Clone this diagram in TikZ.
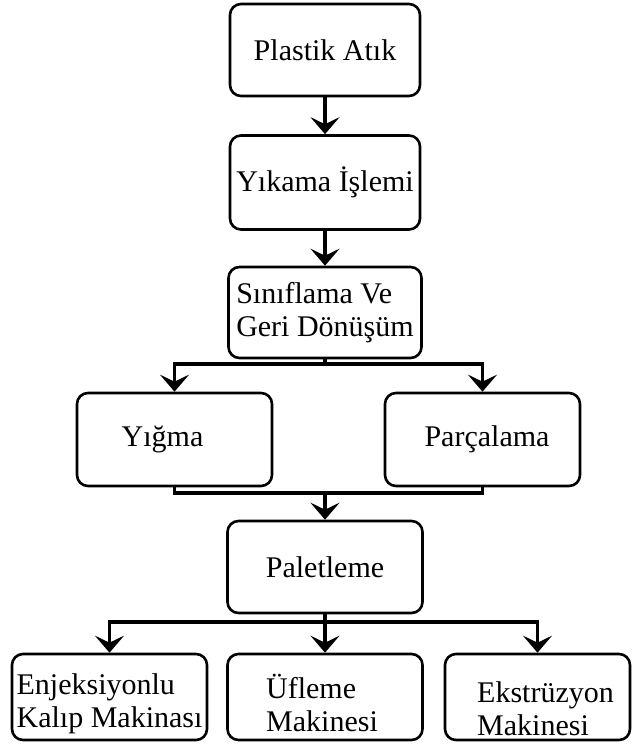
\documentclass[tikz,border=0pt]{standalone}
\usepackage{fontspec}
\setmainfont{Liberation Serif}
\usetikzlibrary{arrows.meta}
\begin{document}
\begin{tikzpicture}[x=1pt,y=-1pt,
  txt/.style={align=left, inner sep=0pt, font=\fontsize{30}{33}\selectfont},
  box/.style={txt, draw, line width=2.6pt, rounded corners=11pt},
  conn/.style={line width=3.8pt},
  arr/.style={conn, -{Stealth[length=17pt,width=29pt,inset=7pt]}},
]
\useasboundingbox (0,0) rectangle (633,751);
\node[box, minimum width=190pt, minimum height=92pt] (plastik) at (325,50) {Plastik Atık};
\node[box, minimum width=190pt, minimum height=94pt] (yikama) at (325,182.5) {Yıkama İşlemi};
\node[box, minimum width=193pt, minimum height=91pt] (sinif) at (325,312.5) {Sınıflama Ve\\Geri Dönüşüm};
\node[box, minimum width=195pt, minimum height=93pt] (yigma) at (174.5,439.5) {Yığma\hspace*{24pt}};
\node[box, minimum width=195pt, minimum height=93pt] (parca) at (482.5,439.5) {\hspace*{9pt}Parçalama};
\node[box, minimum width=195pt, minimum height=92pt] (palet) at (325,567) {Paletleme};
\node[box, minimum width=195pt, minimum height=86pt] (enj) at (109.5,697) {};
\node[box, minimum width=195pt, minimum height=86pt] (ufle) at (325,697) {};
\node[box, minimum width=185pt, minimum height=86pt] (ekst) at (537.5,697) {};
\node[txt] (enjt) at ([yshift=-7pt]enj.center) {Enjeksiyonlu\\Kalıp Makinası};
\node[txt] (uflet) at ([xshift=-3pt,yshift=-6pt]ufle.center) {Üfleme\\Makinesi};
\node[txt] (ekstt) at ([xshift=8pt,yshift=-12pt]ekst.center) {Ekstrüzyon\\Makinesi};
\draw[arr] (plastik.south) -- (yikama.north);
\draw[arr] (yikama.south) -- (sinif.north);
\draw[arr] (sinif.south) -- ++(0,5) -| (yigma.north);
\draw[arr] (sinif.south) -- ++(0,5) -| (parca.north);
\coordinate (m) at (325,493);
\draw[conn] (yigma.south) |- (m);
\draw[conn] (parca.south) |- (m);
\draw[arr] (m) -- (palet.north);
\draw[arr] (palet.south) -- ++(0,8) -| (enj.north);
\draw[arr] (palet.south) -- (ufle.north);
\draw[arr] (palet.south) -- ++(0,8) -| (ekst.north);
\end{tikzpicture}
\end{document}
